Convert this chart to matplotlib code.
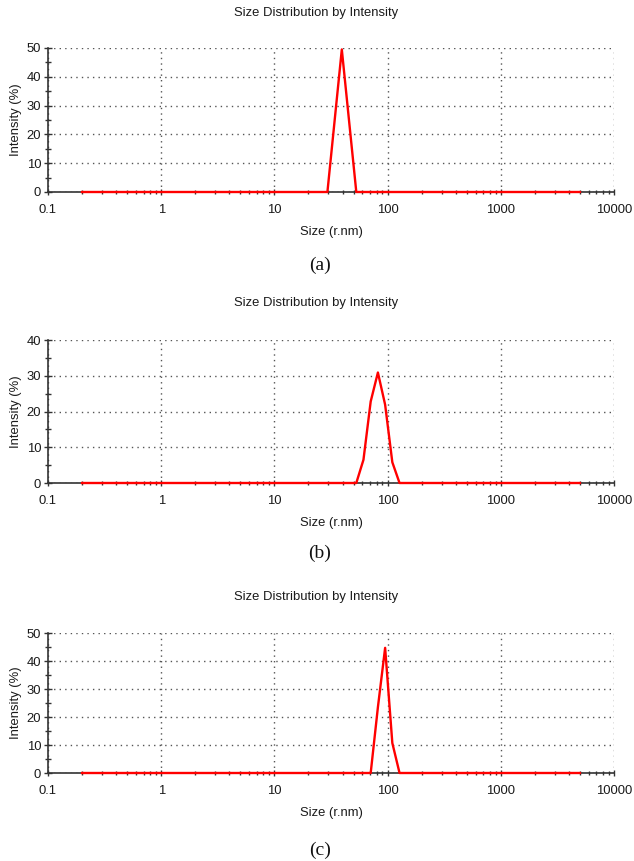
import matplotlib.pyplot as plt
from matplotlib.ticker import FixedLocator, LogLocator, NullFormatter

plt.rcParams['font.family'] = ['Liberation Sans', 'DejaVu Sans']

# size bins (r.nm) and intensity (%) for each sample
size_a = [0.2, 29.4, 39.4, 52.9, 5000]
int_a = [0, 0, 49.5, 0, 0]

size_b = [0.2, 52.9, 61.2, 70.9, 82.1, 95.1, 110.1, 127.5, 5000]
int_b = [0, 0, 6.5, 22.8, 30.9, 21.9, 5.8, 0, 0]

size_c = [0.2, 70.9, 82.1, 95.1, 110.1, 127.5, 5000]
int_c = [0, 0, 23.5, 44.7, 10.7, 0, 0]

ymax = [50, 40, 50]
captions = ["(a)", "(b)", "(c)"]
title = "Size Distribution by Intensity"
xticks = [0.1, 1, 10, 100, 1000, 10000]
xticklabels = ["0.1", "1", "10", "100", "1000", "10000"]

W, H = 634, 861
fig = plt.figure(figsize=(W / 100, H / 100), dpi=100)

# axes boxes in pixels: (top, bottom)
boxes = [(48, 192), (340, 483), (633, 773)]
left, right = 48, 614
title_y = [13, 303, 597]
cap_y = [265, 553, 850]
fs = 9.4

data = [(size_a, int_a), (size_b, int_b), (size_c, int_c)]
grid_kw = dict(color="#555555", linestyle=(0, (1, 3)), linewidth=1.0)

for i, (sx, iy) in enumerate(data):
    top, bot = boxes[i]
    ax = fig.add_axes([left / W, 1 - bot / H, (right - left) / W, (bot - top) / H])
    ax.set_xscale("log")
    ax.set_xlim(0.1, 10000)
    ax.set_ylim(0, ymax[i])

    ax.plot(sx, iy, color="#ff0000", linewidth=1.7, zorder=4, clip_on=False)

    ax.set_xticks(xticks)
    ax.set_xticklabels(xticklabels)
    ax.xaxis.set_minor_locator(LogLocator(base=10, subs=range(2, 10)))
    ax.xaxis.set_minor_formatter(NullFormatter())
    ax.set_yticks(range(0, ymax[i] + 1, 10))
    ax.yaxis.set_minor_locator(FixedLocator(range(5, ymax[i], 10)))

    ax.grid(True, which="major", **grid_kw)
    for s in ["top", "right"]:
        ax.spines[s].set_visible(False)
    for s in ["left", "bottom"]:
        ax.spines[s].set_color("#333333")
        ax.spines[s].set_linewidth(1.2)

    ax.tick_params(axis="both", which="both", direction="inout", colors="#333333",
                   labelcolor="#1a1a1a", labelsize=fs)
    ax.tick_params(axis="y", which="major", length=6, width=1, pad=2)
    ax.tick_params(axis="y", which="minor", length=5, width=1)
    ax.tick_params(axis="x", which="major", length=5, width=1, pad=6)
    ax.tick_params(axis="x", which="minor", length=3, width=1)

    ax.set_xlabel("Size (r.nm)", fontsize=fs, color="#1a1a1a", labelpad=7)
    ax.set_ylabel("Intensity (%)", fontsize=fs, color="#1a1a1a", labelpad=3)

    fig.text(316 / W, 1 - title_y[i] / H, title, ha="center", va="center",
             fontsize=fs, color="#1a1a1a")
    fig.text(320 / W, 1 - cap_y[i] / H, captions[i], ha="center", va="center",
             fontsize=14, family="Liberation Serif", color="#111111")

fig.savefig("out.png", dpi=100)
